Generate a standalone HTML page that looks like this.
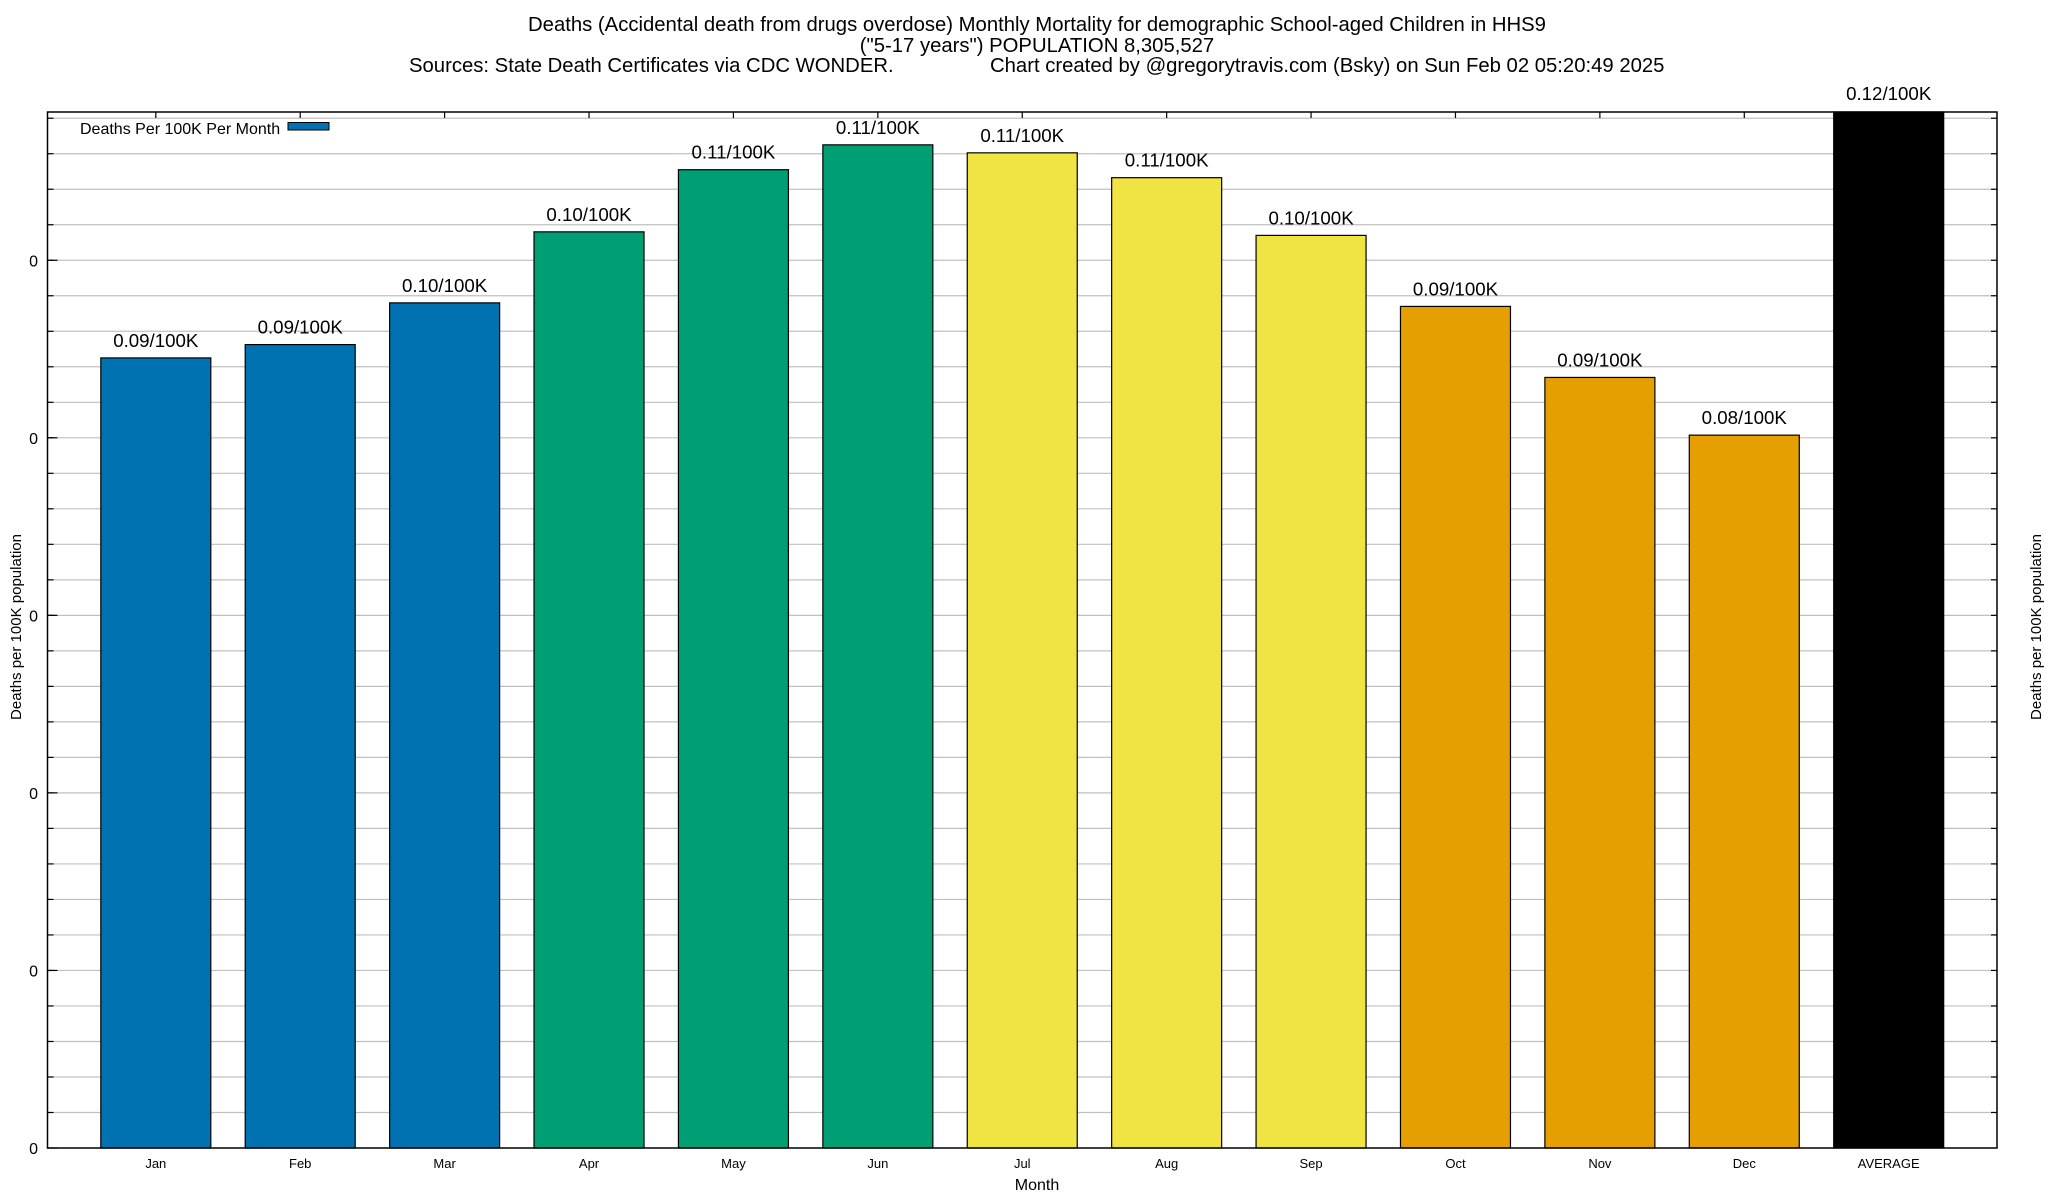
<!DOCTYPE html>
<html><head><meta charset="utf-8"><style>
html,body{margin:0;padding:0;background:#fff;}
svg{display:block;font-family:"Liberation Sans",Arial,sans-serif;}
</style></head><body>
<svg id="chart" width="2048" height="1200" viewBox="0 0 2048 1200" xmlns="http://www.w3.org/2000/svg">
<g font-size="20.3" fill="#000">
<text x="1037" y="31" text-anchor="middle">Deaths (Accidental death from drugs overdose) Monthly Mortality for demographic School-aged Children in HHS9</text>
<text x="1037" y="52" text-anchor="middle">("5-17 years") POPULATION 8,305,527</text>
<text x="409" y="72">Sources: State Death Certificates via CDC WONDER.</text>
<text x="990" y="72">Chart created by @gregorytravis.com (Bsky) on Sun Feb 02 05:20:49 2025</text>
</g>
<g id="grid"></g>
<g id="bars"></g>
<g id="ticks"></g>
<rect x="47.5" y="112" width="1949.5" height="1036" fill="none" stroke="#000" stroke-width="1.5"/>
<g>
<text x="80" y="134" font-size="16">Deaths Per 100K Per Month</text>
<rect x="288" y="122.5" width="41" height="7.5" fill="#0072b2" stroke="#000" stroke-width="1"/>
</g>
<text x="1037" y="1190" font-size="16" text-anchor="middle">Month</text>
<text transform="translate(21,627) rotate(-90)" font-size="15" text-anchor="middle">Deaths per 100K population</text>
<text transform="translate(2041,627) rotate(-90)" font-size="15" text-anchor="middle">Deaths per 100K population</text>
</svg>
<script>
const categories = ["Jan","Feb","Mar","Apr","May","Jun","Jul","Aug","Sep","Oct","Nov","Dec","AVERAGE"];
const values = [0.0890,0.0905,0.0952,0.1032,0.1102,0.1130,0.1121,0.1093,0.1028,0.0948,0.0868,0.0803,0.1200];
const valueLabels = ["0.09/100K","0.09/100K","0.10/100K","0.10/100K","0.11/100K","0.11/100K","0.11/100K","0.11/100K","0.10/100K","0.09/100K","0.09/100K","0.08/100K","0.12/100K"];
const barColors = ["#0072b2","#0072b2","#0072b2","#009e73","#009e73","#009e73","#f0e442","#f0e442","#f0e442","#e69f00","#e69f00","#e69f00","#000000"];
const yTicks = [0,0.02,0.04,0.06,0.08,0.1];
const yTickLabels = ["0","0","0","0","0","0"];

const NS="http://www.w3.org/2000/svg";
const L=47.5,R=1997,T=112,B=1148,yMax=0.1167;
const band=(R-L)/13.5, bw=110;
const xs=i=>L+(i+0.75)*band;
const ys=v=>B-Math.min(v,yMax)/yMax*(B-T);
function mk(tag,attrs,parent){const e=document.createElementNS(NS,tag);for(const k in attrs)e.setAttribute(k,attrs[k]);parent.appendChild(e);return e;}
const grid=document.getElementById('grid'),bars=document.getElementById('bars'),ticks=document.getElementById('ticks');
const minor=(yTicks[1]-yTicks[0])/5;
for(let v=minor;v<yMax;v+=minor){
  const y=ys(v);
  const g=mk('line',{x1:L,x2:R,y1:y,y2:y,stroke:'#c0c0c0','stroke-width':1.2},grid);
  
  
  const t1=mk('line',{x1:L,x2:L+6,y1:y,y2:y,stroke:'#000','stroke-width':1.2},ticks);
  
  
  const t2=mk('line',{x1:R-6,x2:R,y1:y,y2:y,stroke:'#000','stroke-width':1.2},ticks);
  
  
}
yTicks.forEach((v,i)=>{
  const y=ys(v);
  const t=mk('text',{x:38,y:y+6,'font-size':16,'text-anchor':'end'},ticks);
  t.textContent=yTickLabels[i];
  
  
  const m=mk('line',{x1:L,x2:L+10,y1:y,y2:y,stroke:'#000','stroke-width':1.2},ticks);
  
  
});
categories.forEach((c,i)=>{
  const cx=xs(i),y=ys(values[i]);
  const r=mk('rect',{x:cx-bw/2,y:y,width:bw,height:B-y,fill:barColors[i],stroke:'#000','stroke-width':1.2},bars);
  
  
  const lab=mk('text',{x:cx,y:(values[i]>=yMax? T-12 : y-11),'font-size':18.7,'text-anchor':'middle'},bars);
  lab.textContent=valueLabels[i];
  
  
  const tl=mk('text',{x:cx,y:1168,'font-size':13,'text-anchor':'middle'},ticks);
  tl.textContent=c;
  
  
  const tt=mk('line',{x1:cx,x2:cx,y1:T,y2:T+6,stroke:'#000','stroke-width':1.2},ticks);
  
  
});
</script>
</body></html>
